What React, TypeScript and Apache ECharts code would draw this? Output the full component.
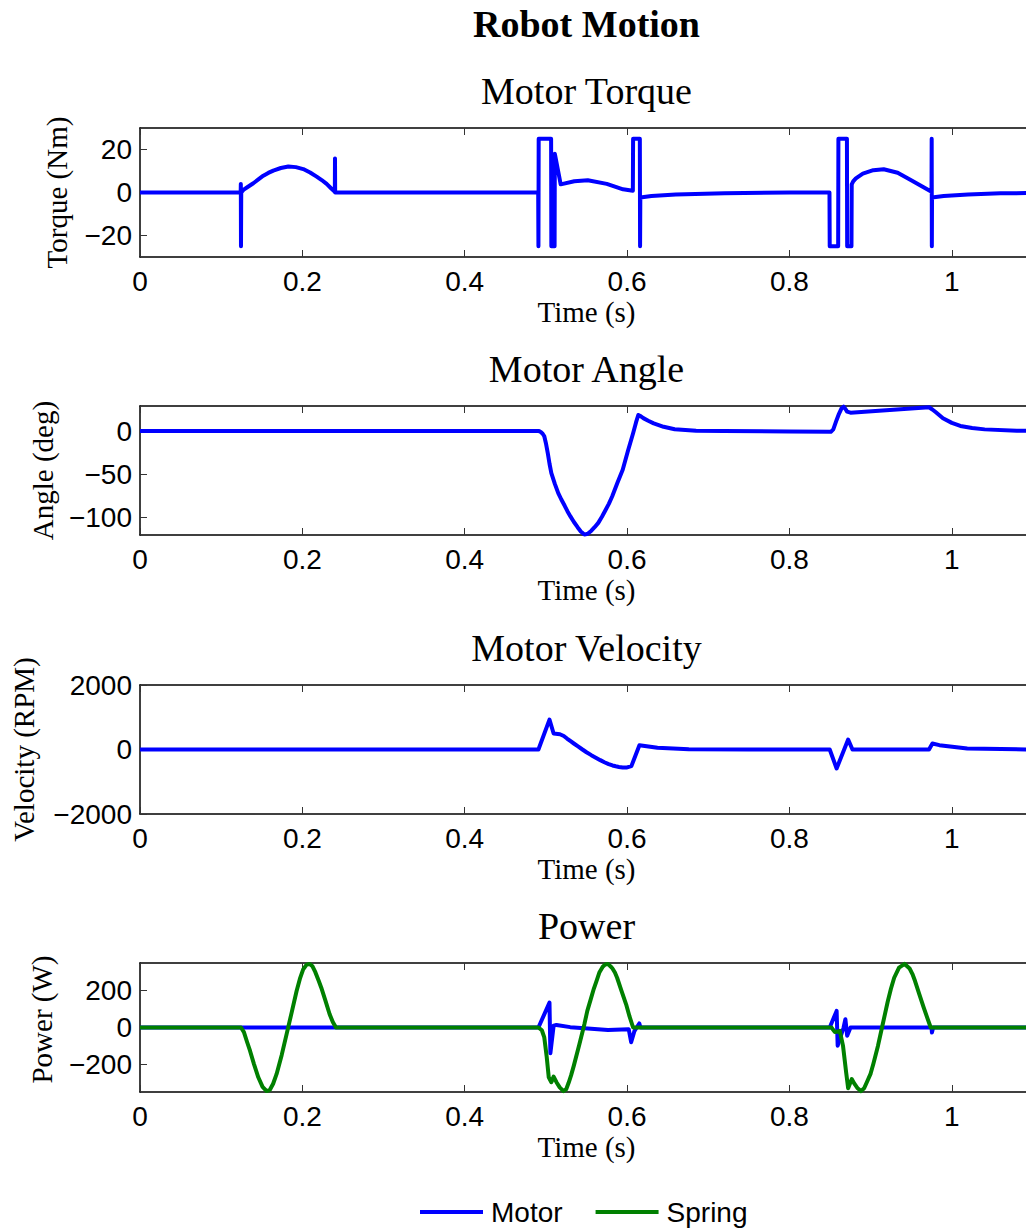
import React, { useEffect, useRef } from "react";
import * as echarts from "echarts";

// ---------- data ----------
const MAIN_TITLE = "Robot Motion";
const PANEL_TITLES = ["Motor Torque", "Motor Angle", "Motor Velocity", "Power"];
const Y_LABELS = ["Torque (Nm)", "Angle (deg)", "Velocity (RPM)", "Power (W)"];
const X_LABEL = "Time (s)";
const LEGEND_NAMES = ["Motor", "Spring"];

const X_TICKS = [0, 0.2, 0.4, 0.6, 0.8, 1];
const X_MIN = 0;
const X_MAX = 1.1;

const Y_RANGES = [
  [-30, 30],
  [-120, 29],
  [-2000, 2000],
  [-350, 350],
];
const Y_TICKS = [
  [-20, 0, 20],
  [-100, -50, 0],
  [-2000, 0, 2000],
  [-200, 0, 200],
];

const TORQUE_T = [
  0, 0.124, 0.1242, 0.1244, 0.1247, 0.1273, 0.1335, 0.1396, 0.1458, 0.1519, 0.158, 0.1642, 0.1735, 0.1827,
  0.192, 0.2011, 0.2095, 0.2176, 0.2238, 0.2299, 0.235, 0.24,
  0.2402, 0.2404, 0.4905, 0.4908, 0.4911, 0.5064, 0.5067, 0.5107, 0.511, 0.5182, 0.535, 0.5516, 0.575,
  0.595, 0.6071, 0.6074, 0.6157, 0.616, 0.6163, 0.63, 0.66, 0.72, 0.8, 0.8493, 0.8496, 0.86, 0.8603,
  0.8708, 0.8711, 0.8764, 0.8767, 0.8785, 0.8818, 0.8904, 0.9033, 0.9161, 0.9333, 0.9505, 0.963, 0.975,
  0.9752, 0.9754, 0.9756, 0.99, 1.02, 1.06, 1.1,
];
const TORQUE_V = [
  0, 0, 4, -25, 0, 1.2, 2.8, 4.3, 6.1, 7.8, 9.1, 10.2, 11.4, 12.1,
  11.8, 10.9, 9.3, 7.4, 5.8, 4.0, 2.1, 0.3,
  15.8, 0, 0, -25, 25, 25, -25, -25, 18, 3.8, 5.2, 5.7, 4.0,
  1.5, 0.8, 25, 25, -25, -2.3, -1.6, -0.9, -0.3, 0, 0, -25, -25, 25,
  25, -25, -25, 3.8, 5.2, 6.6, 8.8, 10.4, 10.8, 9.2, 5.6, 2.9, 0.3,
  25, -25, -2.3, -1.6, -0.9, -0.4, -0.2,
];

const ANGLE_T = [
  0, 0.4916, 0.4937, 0.496, 0.498, 0.5, 0.5023, 0.5045, 0.5067, 0.511, 0.5152, 0.519, 0.523, 0.5265,
  0.5302, 0.5345, 0.539, 0.543, 0.5474, 0.5515, 0.556, 0.56, 0.5645, 0.569, 0.573, 0.5775, 0.5816, 0.588,
  0.5946, 0.601, 0.6074, 0.611, 0.6138, 0.617, 0.62, 0.626, 0.6328, 0.645, 0.6586, 0.685, 0.7189, 0.8,
  0.851, 0.854, 0.8581, 0.861, 0.864, 0.8667, 0.869, 0.871, 0.8752, 0.9719, 0.976, 0.98, 0.9891, 1.0,
  1.0105, 1.025, 1.0405, 1.08, 1.1,
];
const ANGLE_V = [
  0, 0, -1, -3, -6, -14, -25.5, -38, -48.6, -61, -71.6, -79, -86, -92.5,
  -98.5, -105, -111, -116, -119.5, -118.5, -115, -111, -106, -99, -92, -84, -75.5, -60,
  -44.7, -23, -2.5, 10, 18.6, 17, 15, 12, 9, 5, 2.1, 0.5, 0, -0.5,
  -0.8, 2, 12.9, 20, 26, 28.2, 25.5, 22.5, 21.3, 27.5, 25, 22, 14.8, 9.5,
  6, 3.5, 2, 0.5, 0.2,
];

const VEL_T = [
  0, 0.4908, 0.5044, 0.5095, 0.5173, 0.522, 0.526, 0.53, 0.5344, 0.54, 0.545, 0.55, 0.5559, 0.562, 0.567,
  0.572, 0.5773, 0.582, 0.586, 0.59, 0.5946, 0.6, 0.6053, 0.6152, 0.6374, 0.676, 0.75, 0.8496, 0.8581,
  0.8723, 0.8776, 0.9719, 0.9761, 0.9847, 1.019, 1.1,
];
const VEL_V = [
  0, 0, 928, 495, 474, 420, 340, 265, 186, 90, 0, -85, -175, -260, -330,
  -395, -454, -495, -520, -540, -557, -555, -515, 134, 52, 10, 0, 0, -588,
  309, 0, 0, 186, 134, 31, 0,
];

const PMOTOR_T = [
  0, 0.4908, 0.5044, 0.5055, 0.5095, 0.513, 0.53, 0.5474, 0.5764, 0.602, 0.605, 0.609, 0.615, 0.6165,
  0.8496, 0.8581, 0.8594, 0.8667, 0.8689, 0.8711, 0.8752, 0.975, 0.9755, 0.977, 1.1,
];
const PMOTOR_V = [
  0, 0, 135, -140, 10, 14, 2, -4, -14, -9, -80, -20, 22, 0,
  0, 90, -99, 0, 45, -45, 0, 0, -27, 0, 0,
];

const PSPRING_T = [
  0, 0.1244, 0.128, 0.132, 0.1355, 0.1405, 0.1457, 0.151, 0.156, 0.16, 0.164, 0.1683, 0.1745, 0.1806,
  0.187, 0.1929, 0.197, 0.201, 0.205, 0.209, 0.2125, 0.216, 0.22, 0.2233, 0.2285, 0.2336, 0.2375, 0.2414,
  0.4908, 0.495, 0.498, 0.501, 0.5035, 0.5067, 0.5095, 0.513, 0.517, 0.5216, 0.525, 0.528, 0.531, 0.5344,
  0.541, 0.5474, 0.551, 0.555, 0.559, 0.5623, 0.566, 0.57, 0.573, 0.5764, 0.58, 0.582, 0.585, 0.5877,
  0.593, 0.5988, 0.603, 0.6074,
  0.8517, 0.856, 0.862, 0.866, 0.87, 0.8723, 0.8767, 0.88, 0.884, 0.8882, 0.892, 0.896, 0.9, 0.9033,
  0.909, 0.914, 0.9175, 0.921, 0.925, 0.929, 0.935, 0.9419, 0.948, 0.9515, 0.9547, 0.96, 0.9654, 0.97,
  0.974, 1.1,
];
const PSPRING_V = [
  0, 0, -25, -80, -126, -200, -270, -322, -345, -338, -305, -252, -150, -36,
  85, 198, 265, 315, 340, 345, 332, 300, 255, 216, 145, 72, 30, 0,
  0, -15, -54, -160, -270, -297, -266, -297, -325, -345, -335, -300, -260, -207,
  -95, 18, 90, 150, 210, 252, 300, 330, 342, 345, 330, 320, 298, 270,
  200, 126, 60, 0,
  0, -25, -18, -100, -250, -330, -280, -305, -330, -345, -330, -290, -250, -198,
  -100, 0, 70, 140, 210, 270, 325, 345, 320, 290, 252, 180, 108, 50,
  0, 0,
];

// ---------- layout / style ----------
const GRID_LEFT = 140;
const GRID_W = 893;
const GRID_H = 129;
const GRID_TOPS = [128, 406, 685, 963];
const Y_LABEL_X = [57, 43, 24, 42];
const Y_LABEL_DY = [0, 0, 0, -8];
const BLUE = "#0000ff";
const GREEN = "#008000";
const SERIF = "'Liberation Serif', 'Times New Roman', Times, serif";
const SANS = "'Liberation Sans', Arial, Helvetica, sans-serif";

const pairs = (t: number[], v: number[]) => t.map((x, i) => [x, v[i]]);
const fmt = (v: number) => (v < 0 ? "\u2212" + String(-v) : String(v));

function buildOption() {
  const grids: any[] = [];
  const xAxes: any[] = [];
  const yAxes: any[] = [];
  const graphics: any[] = [];
  const cx = GRID_LEFT + GRID_W / 2;

  graphics.push({
    type: "text",
    x: cx,
    y: 24,
    style: {
      text: MAIN_TITLE,
      fontSize: 38,
      fontWeight: "bold",
      fontFamily: SERIF,
      fill: "#000",
      align: "center",
      verticalAlign: "middle",
    },
  });

  GRID_TOPS.forEach((top, i) => {
    grids.push({ left: GRID_LEFT, top, width: GRID_W, height: GRID_H, containLabel: false });
    const tickStyle = { color: "#333", width: 1 };
    const lineStyle = { color: "#000", width: 1.5 };
    const xBase = {
      gridIndex: i,
      type: "value",
      min: X_MIN,
      max: X_MAX,
      splitLine: { show: false },
      axisLine: { show: true, onZero: false, lineStyle },
      axisTick: { show: true, inside: true, length: 7, customValues: X_TICKS, lineStyle: tickStyle },
    };
    xAxes.push({
      ...xBase,
      position: "bottom",
      axisLabel: {
        show: true,
        customValues: X_TICKS,
        formatter: fmt,
        fontSize: 28,
        fontFamily: SANS,
        color: "#000",
        margin: 10,
      },
    });
    xAxes.push({ ...xBase, position: "top", axisLabel: { show: false } });

    const yBase = {
      gridIndex: i,
      type: "value",
      min: Y_RANGES[i][0],
      max: Y_RANGES[i][1],
      splitLine: { show: false },
      axisLine: { show: true, onZero: false, lineStyle },
      axisTick: { show: true, inside: true, length: 7, customValues: Y_TICKS[i], lineStyle: tickStyle },
    };
    yAxes.push({
      ...yBase,
      position: "left",
      axisLabel: {
        show: true,
        customValues: Y_TICKS[i],
        formatter: fmt,
        fontSize: 28,
        fontFamily: SANS,
        color: "#000",
        margin: 8,
      },
    });
    yAxes.push({ ...yBase, position: "right", axisLabel: { show: false } });

    graphics.push({
      type: "text",
      x: cx,
      y: top - 37,
      style: {
        text: PANEL_TITLES[i],
        fontSize: 38,
        fontFamily: SERIF,
        fill: "#000",
        align: "center",
        verticalAlign: "middle",
      },
    });
    graphics.push({
      type: "text",
      x: cx,
      y: top + 184,
      style: {
        text: X_LABEL,
        fontSize: 29,
        fontFamily: SERIF,
        fill: "#000",
        align: "center",
        verticalAlign: "middle",
      },
    });
    graphics.push({
      type: "text",
      x: Y_LABEL_X[i],
      y: top + GRID_H / 2 + Y_LABEL_DY[i],
      rotation: Math.PI / 2,
      style: {
        text: Y_LABELS[i],
        fontSize: 29,
        fontFamily: SERIF,
        fill: "#000",
        align: "center",
        verticalAlign: "middle",
      },
    });
  });

  const mkLine = (name: string, idx: number, data: number[][], color: string, z: number) => ({
    type: "line",
    name,
    xAxisIndex: idx * 2,
    yAxisIndex: idx * 2,
    data,
    symbol: "none",
    showSymbol: false,
    silent: true,
    z,
    lineStyle: { color, width: 4, join: "round" },
    itemStyle: { color },
  });

  const series = [
    mkLine("Torque", 0, pairs(TORQUE_T, TORQUE_V), BLUE, 2),
    mkLine("Angle", 1, pairs(ANGLE_T, ANGLE_V), BLUE, 2),
    mkLine("Velocity", 2, pairs(VEL_T, VEL_V), BLUE, 2),
    mkLine(LEGEND_NAMES[0], 3, pairs(PMOTOR_T, PMOTOR_V), BLUE, 2),
    mkLine(LEGEND_NAMES[1], 3, pairs(PSPRING_T, PSPRING_V), GREEN, 3),
  ];

  return {
    animation: false,
    backgroundColor: "#fff",
    grid: grids,
    xAxis: xAxes,
    yAxis: yAxes,
    series,
    graphic: graphics,
    legend: {
      data: LEGEND_NAMES.map((n) => ({ name: n, icon: "rect" })),
      left: 415,
      top: 1193,
      itemWidth: 63,
      itemHeight: 4,
      itemGap: 33,
      selectedMode: false,
      textStyle: { fontSize: 28, fontFamily: SANS, color: "#000", padding: [0, 0, 0, 3] },
    },
  };
}

export default function App() {
  const ref = useRef<HTMLDivElement>(null);
  useEffect(() => {
    if (!ref.current) return;
    const chart = echarts.init(ref.current, undefined, { renderer: "svg" });
    chart.setOption(buildOption() as any);
    return () => chart.dispose();
  }, []);
  return (
    <div
      style={{
        position: "fixed",
        left: 0,
        top: 0,
        width: 1026,
        height: 1230,
        overflow: "hidden",
        background: "#fff",
      }}
    >
      <div ref={ref} style={{ width: 1040, height: 1230 }} />
    </div>
  );
}
